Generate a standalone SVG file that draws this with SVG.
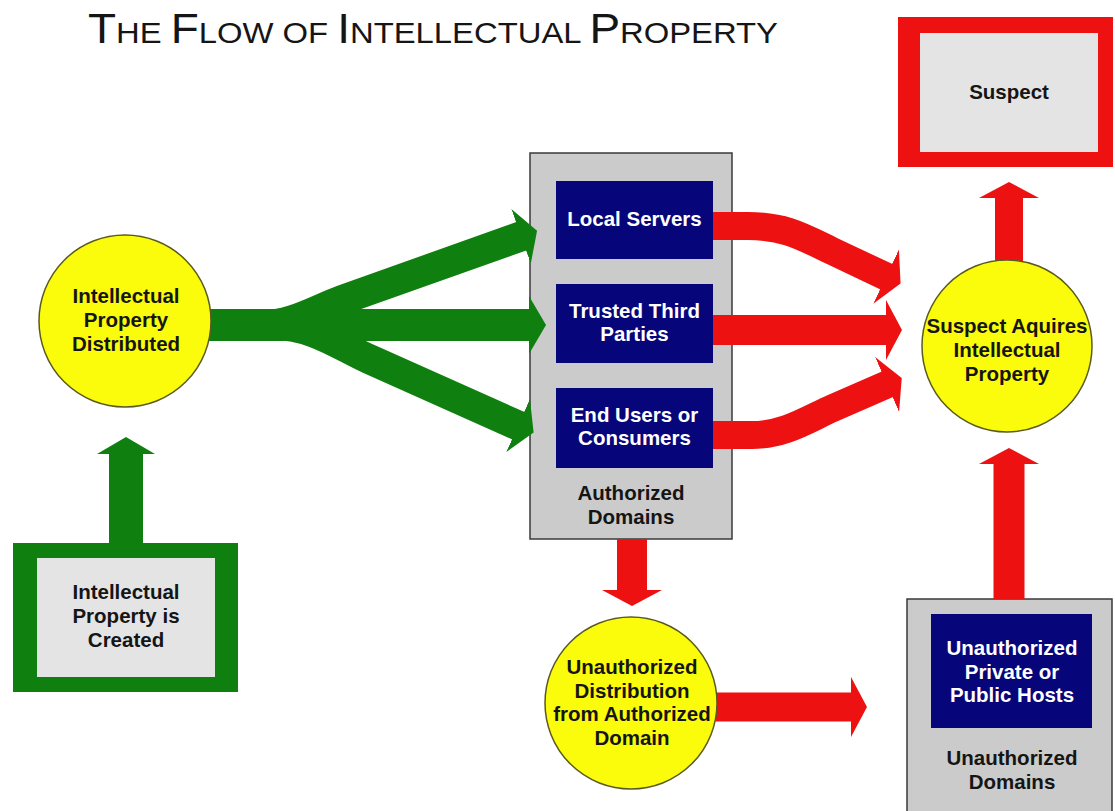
<svg xmlns="http://www.w3.org/2000/svg" width="1115" height="811" viewBox="0 0 1115 811">
<style>
  .t{font-family:"Liberation Sans",Arial,sans-serif;font-weight:bold;font-size:20.5px;text-anchor:middle;fill:#151515}
  .w{fill:#ffffff}
  .title{font-family:"Liberation Sans",Arial,sans-serif;font-size:30px;fill:#151515}
  .big{font-size:42px}
  .gray{fill:#cbcbcb;stroke:#3a3a3a;stroke-width:1.5}
  .navy{fill:#06067a}
  .yel{fill:#fbfb0c;stroke:#5a5a20;stroke-width:1.5}
  .inner{fill:#e4e4e4}
  .g{fill:none;stroke:#0f7f0f}
  .r{fill:none;stroke:#ee1111}
</style>
<defs>
  <marker id="hg" markerUnits="userSpaceOnUse" viewBox="0 -30 18 60" markerWidth="18" markerHeight="60" refX="1" refY="0" orient="auto">
    <path d="M0,-29 L17,0 L0,29 Z" fill="#0f7f0f"/>
  </marker>
  <marker id="hr" markerUnits="userSpaceOnUse" viewBox="0 -31 18 62" markerWidth="18" markerHeight="62" refX="1" refY="0" orient="auto">
    <path d="M0,-30 L16,0 L0,30 Z" fill="#ee1111"/>
  </marker>
</defs>
<rect width="1115" height="811" fill="#ffffff"/>

<g id="title">
  <text class="title" x="88" y="43" textLength="690" lengthAdjust="spacingAndGlyphs"><tspan class="big">T</tspan>HE <tspan class="big">F</tspan>LOW OF <tspan class="big">I</tspan>NTELLECTUAL <tspan class="big">P</tspan>ROPERTY</text>
</g>

<g id="authorized-domains">
  <rect class="gray" x="530" y="153" width="202" height="386"/>
  <text class="t" x="631" y="500">Authorized</text>
  <text class="t" x="631" y="524">Domains</text>
</g>

<g id="unauthorized-domains">
  <rect class="gray" x="907" y="599" width="205" height="220"/>
  <text class="t" x="1012" y="765">Unauthorized</text>
  <text class="t" x="1012" y="789">Domains</text>
</g>

<g id="connectors">
  <path class="g" stroke-width="34" d="M126,545 L126,453" marker-end="url(#hg)"/>
  <path class="g" stroke-width="30" d="M207,325 L262,325 C292,325 315,310 342,300 L522,236" marker-end="url(#hg)"/>
  <path class="g" stroke-width="30" d="M207,325 L275,325 C312,325 342,347 369,359 L519,426" marker-end="url(#hg)"/>
  <path class="g" stroke-width="32" d="M207,325 L530,325" marker-end="url(#hg)"/>
  <path class="r" stroke-width="28" d="M713,226 L748,226 C785,226 803,237 832,251 L887,277" marker-end="url(#hr)"/>
  <path class="r" stroke-width="30" d="M713,330 L887,330" marker-end="url(#hr)"/>
  <path class="r" stroke-width="28" d="M713,435 L752,435 C785,435 808,419 833,408 L888,384" marker-end="url(#hr)"/>
  <path class="r" stroke-width="30" d="M632,539 L632,591" marker-end="url(#hr)"/>
  <path class="r" stroke-width="29" d="M712,707 L852,707" marker-end="url(#hr)"/>
  <path class="r" stroke-width="31" d="M1009,599 L1009,463" marker-end="url(#hr)"/>
  <path class="r" stroke-width="28" d="M1009,265 L1009,197" marker-end="url(#hr)"/>
</g>

<g id="ip-created">
  <path fill="#0f7f0f" fill-rule="evenodd" d="M13,543 H238 V692 H13 Z M37,558 V677 H215 V558 Z"/>
  <rect class="inner" x="37" y="558" width="178" height="119"/>
  <text class="t" x="126" y="599">Intellectual</text>
  <text class="t" x="126" y="623">Property is</text>
  <text class="t" x="126" y="647">Created</text>
</g>

<g id="ip-distributed">
  <ellipse class="yel" cx="125" cy="321" rx="86" ry="86"/>
  <text class="t" x="126" y="303">Intellectual</text>
  <text class="t" x="126" y="327">Property</text>
  <text class="t" x="126" y="351">Distributed</text>
</g>

<g id="local-servers">
  <rect class="navy" x="556" y="181" width="157" height="78"/>
  <text class="t w" x="634.5" y="226">Local Servers</text>
</g>

<g id="trusted-third-parties">
  <rect class="navy" x="556" y="284" width="157" height="79"/>
  <text class="t w" x="634.5" y="318">Trusted Third</text>
  <text class="t w" x="634.5" y="341">Parties</text>
</g>

<g id="end-users">
  <rect class="navy" x="556" y="388" width="157" height="80"/>
  <text class="t w" x="634.5" y="422">End Users or</text>
  <text class="t w" x="634.5" y="445">Consumers</text>
</g>

<g id="unauthorized-distribution">
  <ellipse class="yel" cx="631" cy="703" rx="86" ry="86"/>
  <text class="t" x="632" y="674">Unauthorized</text>
  <text class="t" x="632" y="698">Distribution</text>
  <text class="t" x="632" y="721">from Authorized</text>
  <text class="t" x="632" y="745">Domain</text>
</g>

<g id="unauthorized-hosts">
  <rect class="navy" x="931" y="614" width="161" height="114"/>
  <text class="t w" x="1012" y="655">Unauthorized</text>
  <text class="t w" x="1012" y="679">Private or</text>
  <text class="t w" x="1012" y="702">Public Hosts</text>
</g>

<g id="suspect-acquires">
  <ellipse class="yel" cx="1007" cy="346" rx="85" ry="86"/>
  <text class="t" x="1007" y="333">Suspect Aquires</text>
  <text class="t" x="1007" y="357">Intellectual</text>
  <text class="t" x="1007" y="381">Property</text>
</g>

<g id="suspect">
  <path fill="#ee1111" fill-rule="evenodd" d="M898,17 H1113 V167 H898 Z M920,33 V152 H1098 V33 Z"/>
  <rect class="inner" x="920" y="33" width="178" height="119"/>
  <text class="t" x="1009" y="99">Suspect</text>
</g>
</svg>
